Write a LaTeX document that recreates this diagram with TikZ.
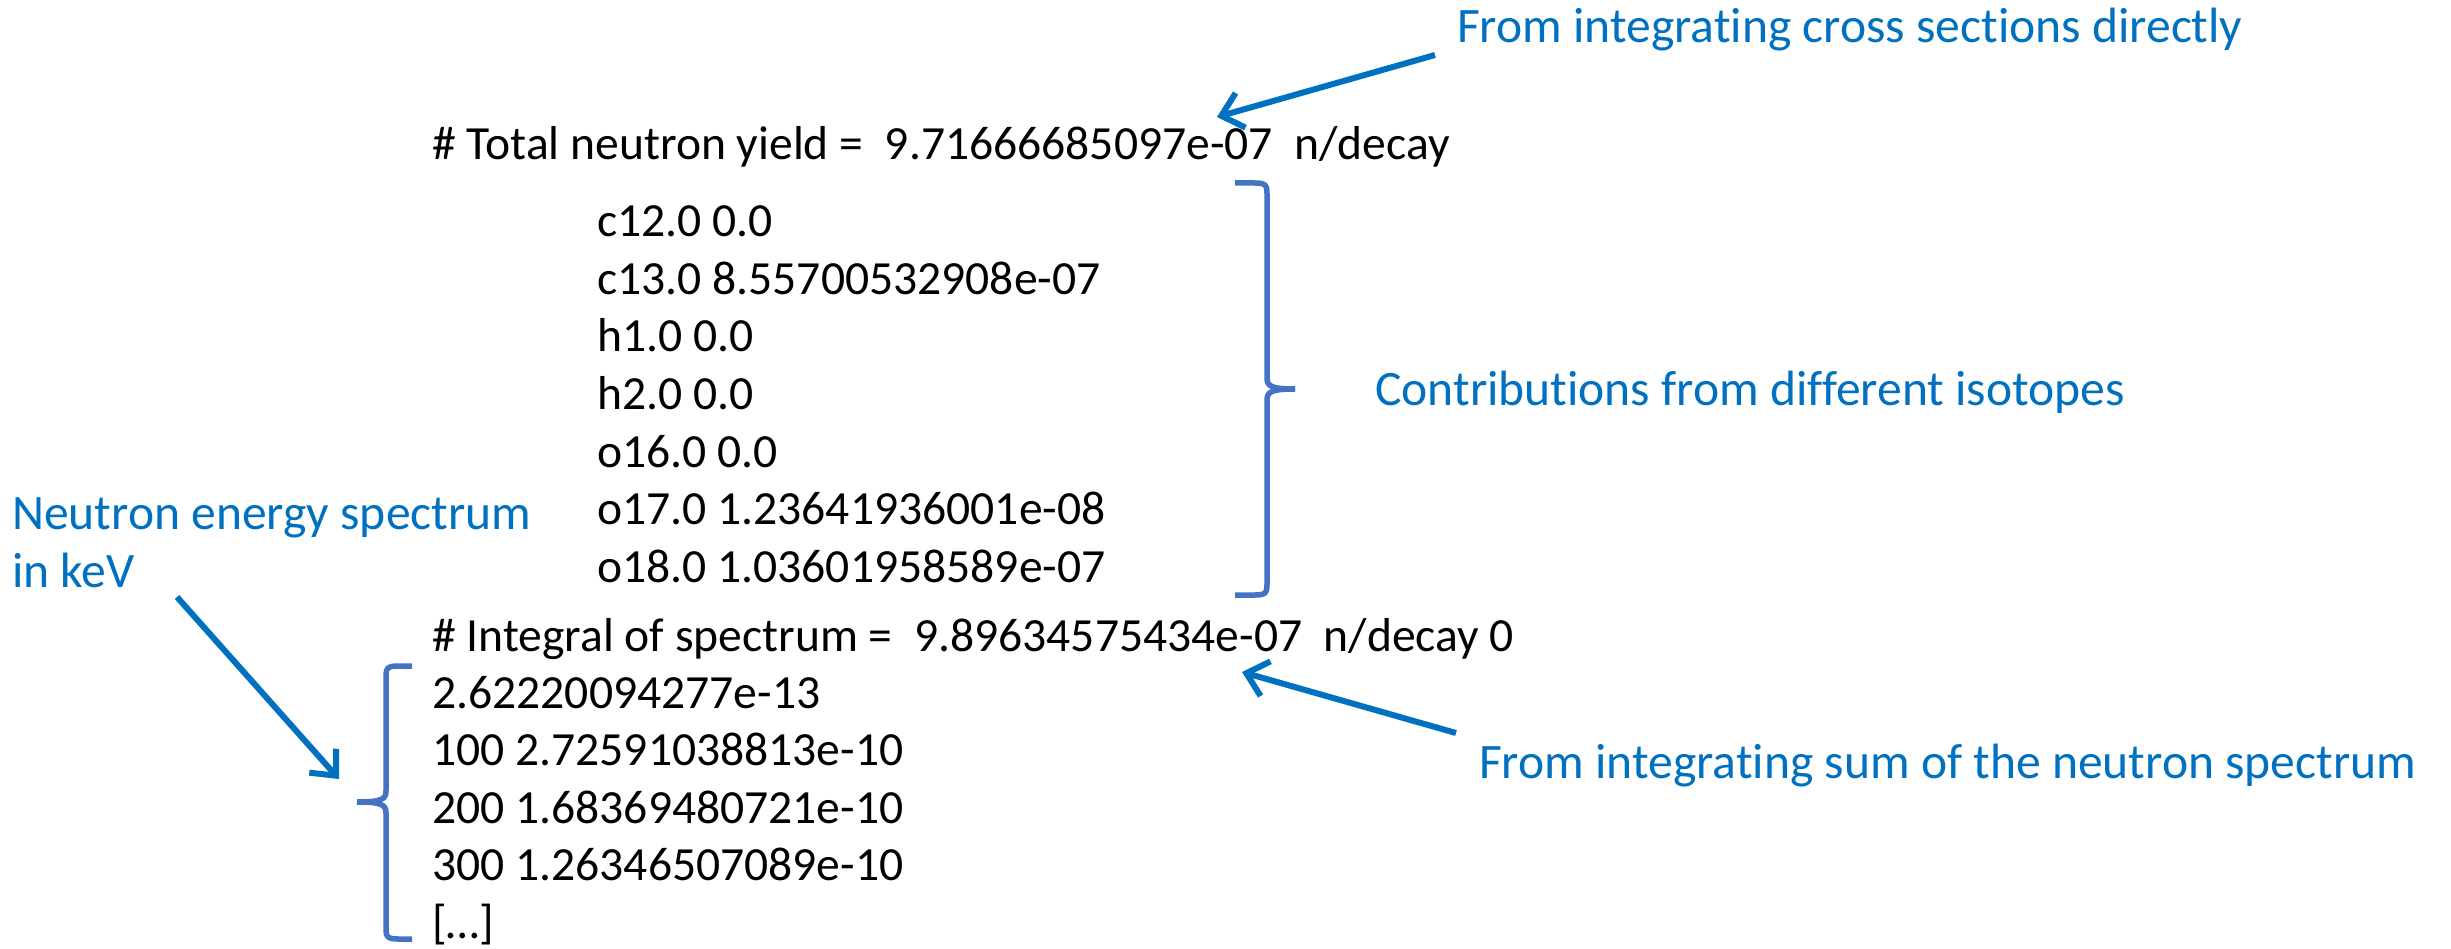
\documentclass[tikz,border=0pt]{standalone}
\usepackage{fontspec}
\setmainfont{Carlito}[Ligatures=NoCommon]
\usetikzlibrary{arrows.meta}
\definecolor{arrowblue}{RGB}{0,112,192}
\definecolor{braceblue}{RGB}{68,114,196}
\tikzset{
  code/.style={anchor=base west, inner sep=0pt, font=\fontsize{47.6}{57.5}\selectfont, text=black},
  note/.style={anchor=base west, inner sep=0pt, font=\fontsize{49.6}{58}\selectfont, text=arrowblue},
  pointer/.style={draw=arrowblue, line width=6pt, -{Straight Barb[length=20pt, width=36pt, line width=6pt]}},
  bracestroke/.style={draw=braceblue, line width=5.5pt, line cap=butt, line join=round},
}
\begin{document}
\begin{tikzpicture}[x=1pt,y=-1pt]
\useasboundingbox (0,0) rectangle (2451,949);
% main output text
\node[code] (total) at (432,160) {\# Total neutron yield =~~9.71666685097e-07~~n/decay};
\node[code] (c12) at (597,237) {c12.0 0.0};
\node[code] (c13) at (597,294.5) {c13.0 8.55700532908e-07};
\node[code] (h1) at (597,352) {h1.0 0.0};
\node[code] (h2) at (597,409.5) {h2.0 0.0};
\node[code] (o16) at (597,467) {o16.0 0.0};
\node[code] (o17) at (597,524.5) {o17.0 1.23641936001e-08};
\node[code] (o18) at (597,582) {o18.0 1.03601958589e-07};
\node[code] (integral) at (432,651) {\# Integral of spectrum =~~9.89634575434e-07~~n/decay 0};
\node[code] (s0) at (432,708) {2.62220094277e-13};
\node[code] (s1) at (432,765.5) {100 2.72591038813e-10};
\node[code] (s2) at (432,823) {200 1.68369480721e-10};
\node[code] (s3) at (432,880.5) {300 1.26346507089e-10};
\node[code] (s4) at (432,938) {[…]};
% annotations
\node[note] (n1) at (1457,43) {From integrating cross sections directly};
\node[note] (n2) at (1375,405) {Contributions from different isotopes};
\node[note] (n3) at (1479,778) {From integrating sum of the neutron spectrum};
\node[note] (n4a) at (12,529) {Neutron energy spectrum};
\node[note] (n4b) at (12,587) {in keV};
% arrows
\coordinate (a1s) at (1435,55);
\coordinate (a1e) at (1217,117);
\coordinate (a2s) at (1456,733);
\coordinate (a2e) at (1242,672);
\coordinate (a3s) at (177,597);
\coordinate (a3e) at (339,779);
\draw[pointer] (a1s) -- (a1e);
\draw[pointer] (a2s) -- (a2e);
\draw[pointer] (a3s) -- (a3e);
% right brace
\draw[bracestroke] (1235,183) -- (1255,183) .. controls (1267,183) and (1267,186) .. (1267,196)
  -- (1267,378) .. controls (1267,386) and (1271,389) .. (1295,389);
\draw[bracestroke] (1295,389) .. controls (1271,389) and (1267,392) .. (1267,400)
  -- (1267,582) .. controls (1267,592) and (1267,595) .. (1255,595) -- (1235,595);
% left brace
\draw[bracestroke] (412,666) -- (398,666) .. controls (386,666) and (386,669) .. (386,679)
  -- (386,791) .. controls (386,799) and (382,802) .. (357,802);
\draw[bracestroke] (357,802) .. controls (382,802) and (386,805) .. (386,813)
  -- (386,926) .. controls (386,936) and (386,939) .. (398,939) -- (412,939);
\end{tikzpicture}
\end{document}
